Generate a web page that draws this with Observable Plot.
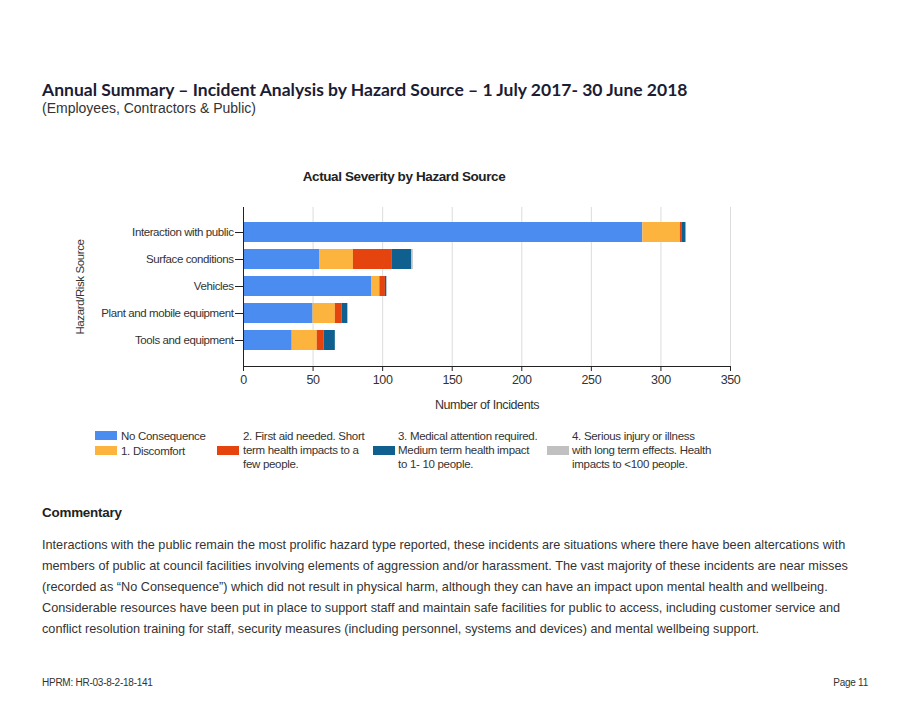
<!DOCTYPE html>
<html><head><meta charset="utf-8">
<script src="https://cdn.jsdelivr.net/npm/d3@7"></script>
<script src="https://cdn.jsdelivr.net/npm/@observablehq/plot@0.6"></script>
<style>
html,body{margin:0;padding:0;background:#fff;}
body{width:919px;height:711px;position:relative;overflow:hidden;font-family:"Liberation Sans",Arial,sans-serif;color:#333;}
.abs{position:absolute;white-space:nowrap;}
#title{left:42px;top:81px;line-height:17px;font-family:Lato,"Open Sans",sans-serif;font-weight:700;font-size:17.5px;color:#1c1c34;}
#subtitle{left:42px;top:101px;line-height:14px;font-size:14px;color:#333;}
#ctitle{left:284px;top:169px;width:240px;text-align:center;font-weight:700;font-size:13.5px;letter-spacing:-0.4px;color:#222;}
#chart{left:70px;top:196px;}
.leg{font-size:11.5px;letter-spacing:-0.3px;line-height:14px;color:#333;}
.sw{position:absolute;width:22px;height:9px;}
#comh{left:42px;top:505px;font-weight:700;font-size:13.4px;color:#222;letter-spacing:-0.2px;}
#com{left:42px;top:535px;font-size:12.7px;line-height:21px;color:#333;}
.foot{top:677px;font-size:10px;letter-spacing:-0.25px;color:#333;}
</style></head><body>
<div class="abs" id="title">Annual Summary – Incident Analysis by Hazard Source – 1 July 2017- 30 June 2018</div>
<div class="abs" id="subtitle">(Employees, Contractors &amp; Public)</div>
<div class="abs" id="ctitle">Actual Severity by Hazard Source</div>
<div class="abs" id="chart"></div>
<div id="legend"></div>
<div class="abs" id="comh">Commentary</div>
<div class="abs" id="com">Interactions with the public remain the most prolific hazard type reported, these incidents are situations where there have been altercations with<br>members of public at council facilities involving elements of aggression and/or harassment. The vast majority of these incidents are near misses<br>(recorded as “No Consequence”) which did not result in physical harm, although they can have an impact upon mental health and wellbeing.<br>Considerable resources have been put in place to support staff and maintain safe facilities for public to access, including customer service and<br>conflict resolution training for staff, security measures (including personnel, systems and devices) and mental wellbeing support.</div>
<div class="abs foot" style="left:42px;">HPRM: HR-03-8-2-18-141</div>
<div class="abs foot" style="right:51px;">Page 11</div>
<script>
const sources = ["Interaction with public","Surface conditions","Vehicles","Plant and mobile equipment","Tools and equipment"];
const severities = ["No Consequence","1. Discomfort","2. First aid needed. Short term health impacts to a few people.","3. Medical attention required. Medium term health impact to 1- 10 people.","4. Serious injury or illness with long term effects. Health impacts to <100 people."];
const legendLines = [["No Consequence"],["1. Discomfort"],["2. First aid needed. Short","term health impacts to a","few people."],["3. Medical attention required.","Medium term health impact","to 1- 10 people."],["4. Serious injury or illness","with long term effects. Health","impacts to <100 people."]];
const noConsequence = [287, 55, 92, 50, 35];
const discomfort    = [27, 24, 6, 16, 18];
const firstAid      = [1, 28, 4, 5, 5];
const medical       = [3, 14, 1, 4, 8];
const serious       = [0, 1, 0, 0, 0];
const xTicks = [0, 50, 100, 150, 200, 250, 300, 350];
const palette = ["#4a8cf0", "#fdb43f", "#e5440f", "#10608f", "#c0c0c0"];

const series = [noConsequence, discomfort, firstAid, medical, serious];
const rows = [];
sources.forEach((s, i) => series.forEach((vals, j) => {
  if (vals[i] > 0) rows.push({source: s, severity: severities[j], value: vals[i]});
}));

const chart = Plot.plot({
  width: 680, height: 230,
  marginLeft: 173, marginRight: 20, marginTop: 11, marginBottom: 60,
  style: {fontFamily: "'Liberation Sans',Arial,sans-serif", fontSize: "11.5px", letterSpacing: "-0.4px", color: "#333", background: "transparent"},
  x: {domain: [0, 350]},
  y: {domain: sources, paddingInner: 0.25, paddingOuter: 0.55},
  color: {domain: severities, range: palette},
  marks: [
    Plot.gridX(xTicks, {stroke: "#dcdcdc", strokeOpacity: 1}),
    Plot.barX(rows, Plot.stackX({x: "value", y: "source", fill: "severity"})),
    Plot.frame({anchor: "left", stroke: "#222"}),
    Plot.frame({anchor: "bottom", stroke: "#222"}),
    Plot.axisX({ticks: xTicks, tickSize: 5, tickPadding: 4, fontSize: 12.5, stroke: "#222",
      label: "Number of Incidents", labelAnchor: "center", labelArrow: "none", labelOffset: 42}),
    Plot.axisY({tickSize: 8, tickPadding: 2, stroke: "#222",
      label: "Hazard/Risk Source", labelAnchor: "center", labelOffset: 168})
  ]
});
document.getElementById("chart").appendChild(chart);

// legend (HTML)
const legPos = [
  {sx: 95, sy: 431, tx: 121, ty: 429},
  {sx: 95, sy: 446, tx: 121, ty: 444},
  {sx: 217, sy: 446, tx: 243, ty: 429},
  {sx: 373, sy: 446, tx: 398, ty: 429},
  {sx: 547, sy: 446, tx: 572, ty: 429}
];
const legend = document.getElementById("legend");
severities.forEach((s, j) => {
  const p = legPos[j];
  const sw = document.createElement("div");
  sw.className = "sw";
  sw.style.left = p.sx + "px"; sw.style.top = p.sy + "px"; sw.style.background = palette[j];
  legend.appendChild(sw);
  const t = document.createElement("div");
  t.className = "abs leg";
  t.style.left = p.tx + "px"; t.style.top = p.ty + "px";
  t.innerHTML = legendLines[j].map(l => l.replace(/</g, "&lt;")).join("<br>");
  legend.appendChild(t);
});
</script>
</body></html>
